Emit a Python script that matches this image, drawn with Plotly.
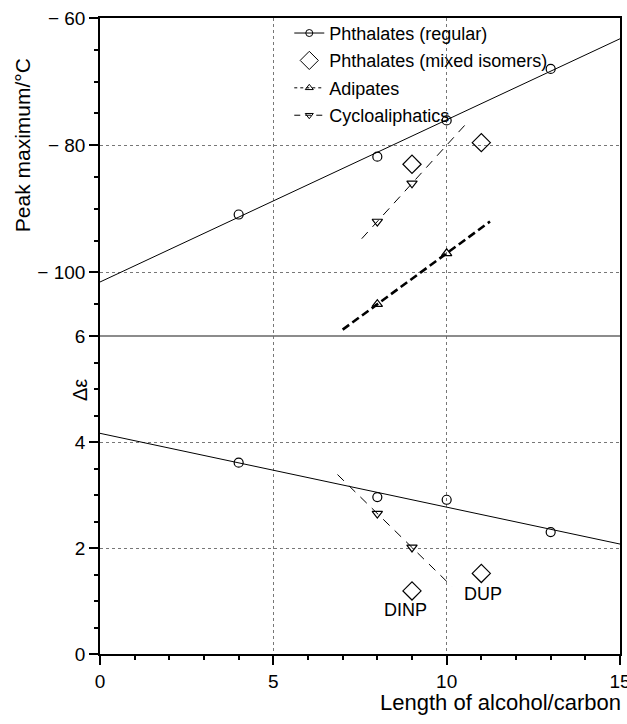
import numpy as np
import plotly.graph_objects as go

# ---------------- data ----------------
x_reg = [4, 8, 10, 13]
tg_reg = [-90.9, -81.8, -76.1, -68.0]
de_reg = [3.61, 2.96, 2.91, 2.30]

x_mix = [9, 11]
tg_mix = [-83.0, -79.6]
de_mix = [1.19, 1.52]
mix_labels = ["DINP", "DUP"]

x_adip = [8, 10]
tg_adip = [-105.0, -97.0]

x_cyc = [8, 9]
tg_cyc = [-92.0, -86.0]
de_cyc = [2.65, 2.01]

# x-extent of the drawn regression lines
reg_fit_span = [0, 15]
adip_fit_span = [7.0, 11.25]
cyc_tg_fit_span = [7.55, 10.65]
cyc_de_fit_span = [6.85, 10.15]

x_ticks = [0, 5, 10, 15]
tg_ticks = [-60, -80, -100]
tg_ticklabels = ["\u2212 60", "\u2212 80", "\u2212 100"]
de_ticks = [0, 2, 4, 6]

FONT = "Liberation Sans, Arial, sans-serif"


def fit(xs, ys, span):
    p = np.polyfit(xs, ys, 1)
    sx = np.array(span, dtype=float)
    return sx, np.polyval(p, sx)


fig = go.Figure()

# ---- top panel: peak maximum ----
fx, fy = fit(x_reg, tg_reg, reg_fit_span)
fig.add_trace(go.Scatter(x=fx, y=fy, mode="lines", line=dict(color="black", width=1),
                         xaxis="x2", yaxis="y2", showlegend=False))
fx, fy = fit(x_adip, tg_adip, adip_fit_span)
fig.add_trace(go.Scatter(x=fx, y=fy, mode="lines", line=dict(color="black", width=2.6, dash="8px,4px"),
                         xaxis="x2", yaxis="y2", showlegend=False))
fx, fy = fit(x_cyc, tg_cyc, cyc_tg_fit_span)
fig.add_trace(go.Scatter(x=fx, y=fy, mode="lines", line=dict(color="black", width=1, dash="9px,7px"),
                         xaxis="x2", yaxis="y2", showlegend=False))

fig.add_trace(go.Scatter(x=x_reg, y=tg_reg, mode="markers",
                         marker=dict(symbol="circle-open", size=9, color="black", line=dict(width=1.2)),
                         xaxis="x2", yaxis="y2", showlegend=False))
fig.add_trace(go.Scatter(x=x_mix, y=tg_mix, mode="markers",
                         marker=dict(symbol="diamond-open", size=14, color="black", line=dict(width=1.2)),
                         xaxis="x2", yaxis="y2", showlegend=False))
fig.add_trace(go.Scatter(x=x_adip, y=tg_adip, mode="markers",
                         marker=dict(symbol="triangle-up-open", size=9, color="black", line=dict(width=1.2)),
                         xaxis="x2", yaxis="y2", showlegend=False))
fig.add_trace(go.Scatter(x=x_cyc, y=tg_cyc, mode="markers",
                         marker=dict(symbol="triangle-down-open", size=9, color="black", line=dict(width=1.2)),
                         xaxis="x2", yaxis="y2", showlegend=False))

# ---- bottom panel: delta epsilon ----
fx, fy = fit(x_reg, de_reg, reg_fit_span)
fig.add_trace(go.Scatter(x=fx, y=fy, mode="lines", line=dict(color="black", width=1),
                         xaxis="x", yaxis="y", showlegend=False))
fx, fy = fit(x_cyc, de_cyc, cyc_de_fit_span)
fig.add_trace(go.Scatter(x=fx, y=fy, mode="lines", line=dict(color="black", width=1, dash="9px,7px"),
                         xaxis="x", yaxis="y", showlegend=False))
fig.add_trace(go.Scatter(x=x_reg, y=de_reg, mode="markers",
                         marker=dict(symbol="circle-open", size=9, color="black", line=dict(width=1.2)),
                         xaxis="x", yaxis="y", showlegend=False))
fig.add_trace(go.Scatter(x=x_mix, y=de_mix, mode="markers",
                         marker=dict(symbol="diamond-open", size=14, color="black", line=dict(width=1.2)),
                         xaxis="x", yaxis="y", showlegend=False))
fig.add_trace(go.Scatter(x=x_cyc, y=de_cyc, mode="markers",
                         marker=dict(symbol="triangle-down-open", size=9, color="black", line=dict(width=1.2)),
                         xaxis="x", yaxis="y", showlegend=False))

# ---- legend entries ----
leg = [
    ("Phthalates (regular)", "lines+markers", "circle-open", 7, "solid"),
    ("Phthalates (mixed isomers)", "markers", "diamond-open", 14, "solid"),
    ("Adipates", "lines+markers", "triangle-up-open", 7, "3px,3px"),
    ("Cycloaliphatics", "lines+markers", "triangle-down-open", 7, "6px,5px"),
]
for i, (name, mode, sym, sz, dash) in enumerate(leg):
    fig.add_trace(go.Scatter(x=[None], y=[None], mode=mode, name=name,
                             marker=dict(symbol=sym, size=sz, color="black", line=dict(width=1)),
                             line=dict(color="black", width=1, dash=dash),
                             xaxis="x2", yaxis="y2", legendgroup=f"g{i}", showlegend=True))

# ---- labels for the mixed isomers ----
label_shift = [(-7, -19), (2, -21)]
for xv, yv, txt, (dx, dy) in zip(x_mix, de_mix, mix_labels, label_shift):
    fig.add_annotation(x=xv, y=yv, xref="x", yref="y", text=txt, showarrow=False,
                       xshift=dx, yshift=dy, font=dict(size=18, color="black", family=FONT))

grid = dict(showgrid=True, gridcolor="#777", griddash="dot", gridwidth=1, zeroline=False)
tickfont = dict(size=19, color="black", family=FONT)

fig.update_layout(
    width=627, height=724,
    margin=dict(l=100, r=7, t=18, b=70),
    paper_bgcolor="white", plot_bgcolor="white",
    font=dict(family=FONT, color="black"),
    xaxis=dict(range=[0, 15], tickmode="array", tickvals=x_ticks, anchor="y",
               showline=True, linecolor="black", linewidth=1.5, ticklabeloverflow="allow",
               automargin=False,
               ticks="outside", ticklen=9, tickwidth=1.6, tickcolor="black", tickfont=tickfont,
               minor=dict(tickmode="linear", dtick=1, tick0=0, ticks="outside", ticklen=4,
                          tickwidth=1.6, tickcolor="black", showgrid=False),
               **grid),
    xaxis2=dict(range=[0, 15], tickmode="array", tickvals=x_ticks, anchor="y2",
                side="top", showline=True, linecolor="black", linewidth=1.5, ticks="",
                showticklabels=False, automargin=False, **grid),
    yaxis=dict(range=[0, 6], domain=[0, 0.5], tickmode="array", tickvals=de_ticks, anchor="x",
               showline=True, linecolor="black", linewidth=1.5, mirror=True, automargin=False,
               ticks="outside", ticklen=9, tickwidth=1.5, tickcolor="black", tickfont=tickfont,
               minor=dict(tickmode="linear", dtick=0.5, tick0=0, ticks="outside", ticklen=4,
                          tickwidth=1.5, tickcolor="black", showgrid=False),
               **grid),
    yaxis2=dict(range=[-110, -60], domain=[0.5, 1], tickmode="array", tickvals=tg_ticks,
                ticktext=tg_ticklabels, anchor="x2", automargin=False,
                showline=True, linecolor="black", linewidth=1.5, mirror=True,
                ticks="outside", ticklen=9, tickwidth=1.5, tickcolor="black", tickfont=tickfont,
                minor=dict(tickmode="linear", dtick=5, tick0=-110, ticks="outside", ticklen=4,
                           tickwidth=1.5, tickcolor="black", showgrid=False),
                **grid),
    legend=dict(x=0.364, y=1.005, xanchor="left", yanchor="top", bgcolor="rgba(0,0,0,0)",
                font=dict(size=18, color="black", family=FONT), traceorder="grouped",
                tracegroupgap=1, itemwidth=30),
    showlegend=True,
    shapes=[dict(type="line", xref="paper", yref="paper", x0=0, x1=1, y0=0.5, y1=0.5,
                 line=dict(color="#666", width=1.5), layer="above")],
    annotations=list(fig.layout.annotations) + [
        dict(text="Peak maximum/\u00b0C", xref="paper", yref="paper", x=-0.15, y=0.80,
             textangle=-90, showarrow=False, xanchor="center", yanchor="middle",
             font=dict(size=21, color="black", family=FONT)),
        dict(text="\u0394\u03b5", xref="paper", yref="paper", x=-0.0385, y=0.415,
             textangle=-90, showarrow=False, xanchor="center", yanchor="middle",
             font=dict(size=20, color="black", family=FONT)),
        dict(text="Length of alcohol/carbon", xref="paper", yref="paper", x=1.006, y=-0.077,
             showarrow=False, xanchor="right", yanchor="middle",
             font=dict(size=22, color="black", family=FONT)),
    ],
)

fig.write_html("out.html")
